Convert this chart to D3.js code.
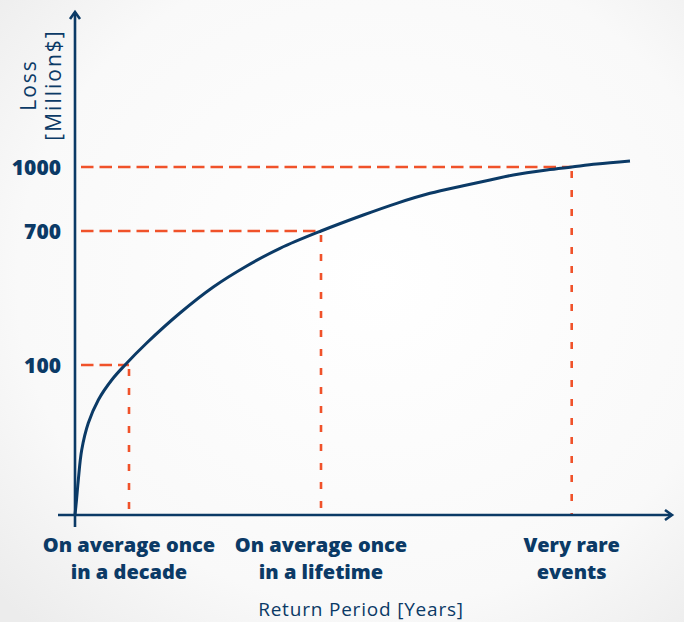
<!DOCTYPE html>
<html><head><meta charset="utf-8">
<script src="https://cdn.jsdelivr.net/npm/d3@7"></script>
<style>
html,body{margin:0;padding:0;background:#f6f6f6;}
svg{display:block;}
</style></head>
<body>
<script>
// Return-period position (arbitrary units) and loss (Million $) along the curve
const curveX    = [0, 1.5, 3.3, 6.7, 13.3, 23.3, 36.7, 50, 71.7, 105, 138.3, 171.7, 205, 246, 288.3, 321.7, 355, 388.3, 415, 438.3, 471.7, 496.7, 521.7, 555];
const curveLoss = [0, 10, 23.3, 43.3, 61.3, 76.7, 90, 100, 198.5, 332.8, 449.3, 543.3, 622.5, 700, 775, 829.8, 876.7, 912.3, 939.1, 962.5, 985.9, 1000, 1014.1, 1028.1];
// Marked events
const markerX    = [54, 246, 496.7];
const markerLoss = [100, 700, 1000];
const markerLabels = [["On average once","in a decade"],["On average once","in a lifetime"],["Very rare","events"]];
const yTickLabels = ["100","700","1000"];
const yTitle = ["Loss","[Million$]"];
const xTitle = "Return Period [Years]";

const W = 684, H = 622;
const navy = "#0b3a66", orange = "#f0522a";
const svg = d3.select("body").append("svg").attr("width", W).attr("height", H);

// soft background
const defs = svg.append("defs");
const g1 = defs.append("radialGradient").attr("id","bg").attr("cx","55%").attr("cy","45%").attr("r","75%");
g1.append("stop").attr("offset","0%").attr("stop-color","#ffffff");
g1.append("stop").attr("offset","70%").attr("stop-color","#f9f9f9");
g1.append("stop").attr("offset","100%").attr("stop-color","#ececec");
svg.append("rect").attr("width",W).attr("height",H).attr("fill","url(#bg)");

const x = d3.scaleLinear().domain([0, 597]).range([75, 672]);
// piecewise loss scale (labels are not evenly spaced)
const y = d3.scaleLinear().domain([0, 100, 700, 1000]).range([515, 365, 231, 167]);

// dashed guides
markerX.forEach((mx, i) => {
  const px = x(mx), py = y(markerLoss[i]);
  svg.append("line").attr("x1", 81).attr("x2", px).attr("y1", py).attr("y2", py)
    .attr("stroke", orange).attr("stroke-width", 2.6).attr("stroke-dasharray", "12.5,6");
  svg.append("line").attr("x1", px).attr("x2", px).attr("y1", py+4).attr("y2", y(0))
    .attr("stroke", orange).attr("stroke-width", 2.6).attr("stroke-dasharray", "7,12");
});

// curve
const pts = curveX.map((v,i)=>[v, curveLoss[i]]);
svg.append("path").datum(pts)
  .attr("d", d3.line().x(d=>x(d[0])).y(d=>y(d[1])).curve(d3.curveCatmullRom.alpha(0.5)))
  .attr("fill","none").attr("stroke", navy).attr("stroke-width", 3);

// axes
svg.append("line").attr("x1", x(0)).attr("x2", x(0)).attr("y1", 527).attr("y2", 12)
  .attr("stroke", navy).attr("stroke-width", 2.6);
svg.append("line").attr("x1", 58).attr("x2", 671).attr("y1", y(0)).attr("y2", y(0))
  .attr("stroke", navy).attr("stroke-width", 2.6);
svg.append("path").attr("d", `M${x(0)-5},${19} L${x(0)},${12} L${x(0)+5},${19}`)
  .attr("fill","none").attr("stroke", navy).attr("stroke-width", 2.6);
svg.append("path").attr("d", `M${665},${y(0)-5} L${672},${y(0)} L${665},${y(0)+5}`)
  .attr("fill","none").attr("stroke", navy).attr("stroke-width", 2.6);

const font = "'Open Sans', sans-serif";
// y tick labels
yTickLabels.forEach((t,i)=>{
  svg.append("text").attr("x", 61).attr("y", y(markerLoss[i])).attr("dy","0.36em")
    .attr("text-anchor","end").attr("font-family", font).attr("font-weight", 800)
    .attr("font-size", 21).attr("fill", navy).text(t);
});
// y title
const yt = svg.append("text").attr("transform","translate(36,85) rotate(-90)")
  .attr("text-anchor","middle").attr("font-family", font).attr("font-size", 21)
  .attr("letter-spacing", 2).attr("fill", navy);
yt.append("tspan").attr("x",0).attr("dy",0).text(yTitle[0]);
yt.append("tspan").attr("x",0).attr("dy",25).text(yTitle[1]);

// x labels
markerLabels.forEach((lines,i)=>{
  const t = svg.append("text").attr("x", x(markerX[i])).attr("y", 552)
    .attr("text-anchor","middle").attr("font-family", font).attr("font-weight", 800)
    .attr("font-size", 20).attr("fill", navy);
  lines.forEach((l,j)=> t.append("tspan").attr("x", x(markerX[i])).attr("dy", j?27:0).text(l));
});
svg.append("text").attr("x", 361).attr("y", 616).attr("text-anchor","middle")
  .attr("font-family", font).attr("font-size", 19).attr("letter-spacing", 0.8)
  .attr("fill", navy).text(xTitle);
</script>
</body></html>
